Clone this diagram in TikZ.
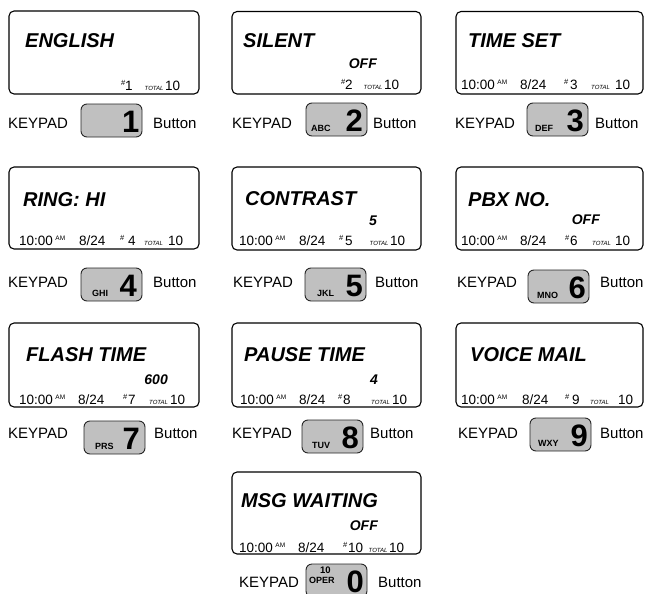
\documentclass[tikz,border=0pt]{standalone}
\usepackage{fontspec}
\setmainfont{Liberation Sans}
\definecolor{btngray}{RGB}{192,192,192}
\newcommand\lcdpanel[5]{\node[panelframe, minimum width={#4-#2}, minimum height={#5-#3}] (#1) at ({(#2+#4)/2},{(#3+#5)/2}) {};}
\newcommand\keybutton[7]{%
  \node[keybtn] (#1) at ({#2+30.5},{#3+16.5}) {};
  \node[keyletters] (#1l) at ({#2+#4},{#3+28.5}) {#5};
  \node[keydigit] (#1d) at ({#2+61-#6},{#3+28.5}) {#7};}
\newcommand\statshort[7]{%
  \node[hashmark] (#1hash) at (#3,#2) {\#};
  \node[stat] (#1num) at (#5,#2) {#4};
  \node[totl] (#1total) at (#6,#2) {TOTAL};
  \node[stat] (#1ten) at (#7,#2) {10};}
\newcommand\statfull[9]{%
  \node[stat] (#1time) at (#3,#2) {10:00\hspace{2.5pt}\raisebox{4.5pt}{\fontsize{6.5}{6.5}\selectfont AM}};
  \node[stat] (#1date) at (#4,#2) {8/24};
  \statshort{#1}{#2}{#5}{#6}{#7}{#8}{#9}}
\newcommand\kplabels[4]{% id, baseline, keypad x, button x
  \node[lbl] (#1kp) at (#3,#2) {KEYPAD};
  \node[lbl] (#1bt) at (#4,#2) {Button};}
\begin{document}
\begin{tikzpicture}[x=1pt,y=-1pt,
  panelframe/.style={draw=black, line width=1.1pt, rounded corners=5pt, inner sep=0pt},
  keybtn/.style={draw=black!85, fill=btngray, line width=0.9pt, rounded corners=6pt, minimum width=61pt, minimum height=33pt, inner sep=0pt},
  ttl/.style={font=\fontsize{20}{20}\selectfont\bfseries\itshape, anchor=base west, inner sep=0pt},
  val/.style={font=\fontsize{14}{14}\selectfont\bfseries\itshape, anchor=base east, inner sep=0pt},
  stat/.style={font=\fontsize{13.5}{13.5}\selectfont, anchor=base west, inner sep=0pt},
  hashmark/.style={font=\fontsize{7.5}{7.5}\selectfont, anchor=base west, inner sep=0pt, yshift=4.5pt},
  totl/.style={font=\fontsize{6}{6}\selectfont\itshape, anchor=base west, inner sep=0pt},
  lbl/.style={font=\fontsize{15}{15}\selectfont, anchor=base west, inner sep=0pt},
  keydigit/.style={font=\fontsize{31}{31}\selectfont\bfseries, anchor=base east, inner sep=0pt},
  keyletters/.style={font=\fontsize{9}{9}\selectfont\bfseries, anchor=base west, inner sep=0pt}]
\useasboundingbox (0,0) rectangle (645,594);
\clip (0,0) rectangle (645,594);
% panels
\lcdpanel{p1}{9}{11}{199}{94}
\lcdpanel{p2}{232}{11.5}{421}{94}
\lcdpanel{p3}{456}{11.5}{643}{94}
\lcdpanel{p4}{9}{167}{199}{249}
\lcdpanel{p5}{232}{167}{421}{250}
\lcdpanel{p6}{456}{167}{643}{250}
\lcdpanel{p7}{9}{323}{199}{407}
\lcdpanel{p8}{232}{323}{421}{407}
\lcdpanel{p9}{456}{323}{643}{407}
\lcdpanel{p10}{232}{472}{421}{554}
% titles
\node[ttl] (t1) at (25,48) {ENGLISH};
\node[ttl] (t2) at (243,48) {SILENT};
\node[ttl] (t3) at (468,48) {TIME SET};
\node[ttl] (t4) at (23,206) {RING: HI};
\node[ttl] (t5) at (245,205) {CONTRAST};
\node[ttl] (t6) at (468,206) {PBX NO.};
\node[ttl] (t7) at (26,361) {FLASH TIME};
\node[ttl] (t8) at (244,361) {PAUSE TIME};
\node[ttl] (t9) at (470,361) {VOICE MAIL};
\node[ttl] (t10) at (241,507) {MSG WAITING};
% values
\node[val] (v2) at (377,68) {OFF};
\node[val] (v5) at (377,225) {5};
\node[val] (v6) at (600,224) {OFF};
\node[val] (v7) at (168,384) {600};
\node[val] (v8) at (378,384) {4};
\node[val] (v10) at (378,530) {OFF};
% status lines
\statshort{s1}{90}{121}{1}{125}{144.5}{165}
\statshort{s2}{89}{341}{2}{345}{363.5}{384}
\statfull{s3}{89}{461}{520}{564}{3}{570}{591}{615}
\statfull{s4}{245}{19}{79}{120}{4}{128}{144}{168}
\statfull{s5}{245}{239}{299}{339}{5}{345}{369.5}{390}
\statfull{s6}{245}{461}{520}{565}{6}{570}{592}{615}
\statfull{s7}{404}{19}{78}{123}{7}{128}{149}{170}
\statfull{s8}{404}{240}{299}{338}{8}{343}{371}{392}
\statfull{s9}{404}{461}{522}{565}{9}{572}{590}{618}
\statfull{s10}{552}{239}{298}{343}{10}{348}{368.5}{389}
% keypad labels
\kplabels{r1a}{128}{8}{153}
\kplabels{r1b}{128}{232}{373}
\kplabels{r1c}{128}{455}{595}
\kplabels{r2a}{287}{8}{153}
\kplabels{r2b}{287}{233}{375}
\kplabels{r2c}{287}{457}{600}
\kplabels{r3a}{438}{8}{154}
\kplabels{r3b}{438}{232}{370}
\kplabels{r3c}{438}{458}{600}
\kplabels{r4b}{587}{239}{378}
% buttons
\keybutton{b1}{81}{104}{5}{}{2.5}{1}
\keybutton{b2}{306}{103}{5}{ABC}{4}{2}
\keybutton{b3}{527}{103}{8}{DEF}{4}{3}
\keybutton{b4}{81}{268}{11}{GHI}{5}{4}
\keybutton{b5}{305}{268}{12}{JKL}{3}{5}
\keybutton{b6}{528}{270}{9}{MNO}{3}{6}
\keybutton{b7}{84}{421}{11}{PRS}{5}{7}
\keybutton{b8}{302}{420}{10}{TUV}{4}{8}
\keybutton{b9}{530}{418}{8}{WXY}{3}{9}
\node[keybtn] (b0) at (336.5,580.5) {};
\node[keyletters, font=\fontsize{9.5}{9.5}\selectfont\bfseries] (b0ten) at (320,573) {10};
\node[keyletters, font=\fontsize{9}{9}\selectfont\bfseries] (b0oper) at (309,583.5) {OPER};
\node[keydigit] (b0d) at (364,592.5) {0};
\end{tikzpicture}
\end{document}
